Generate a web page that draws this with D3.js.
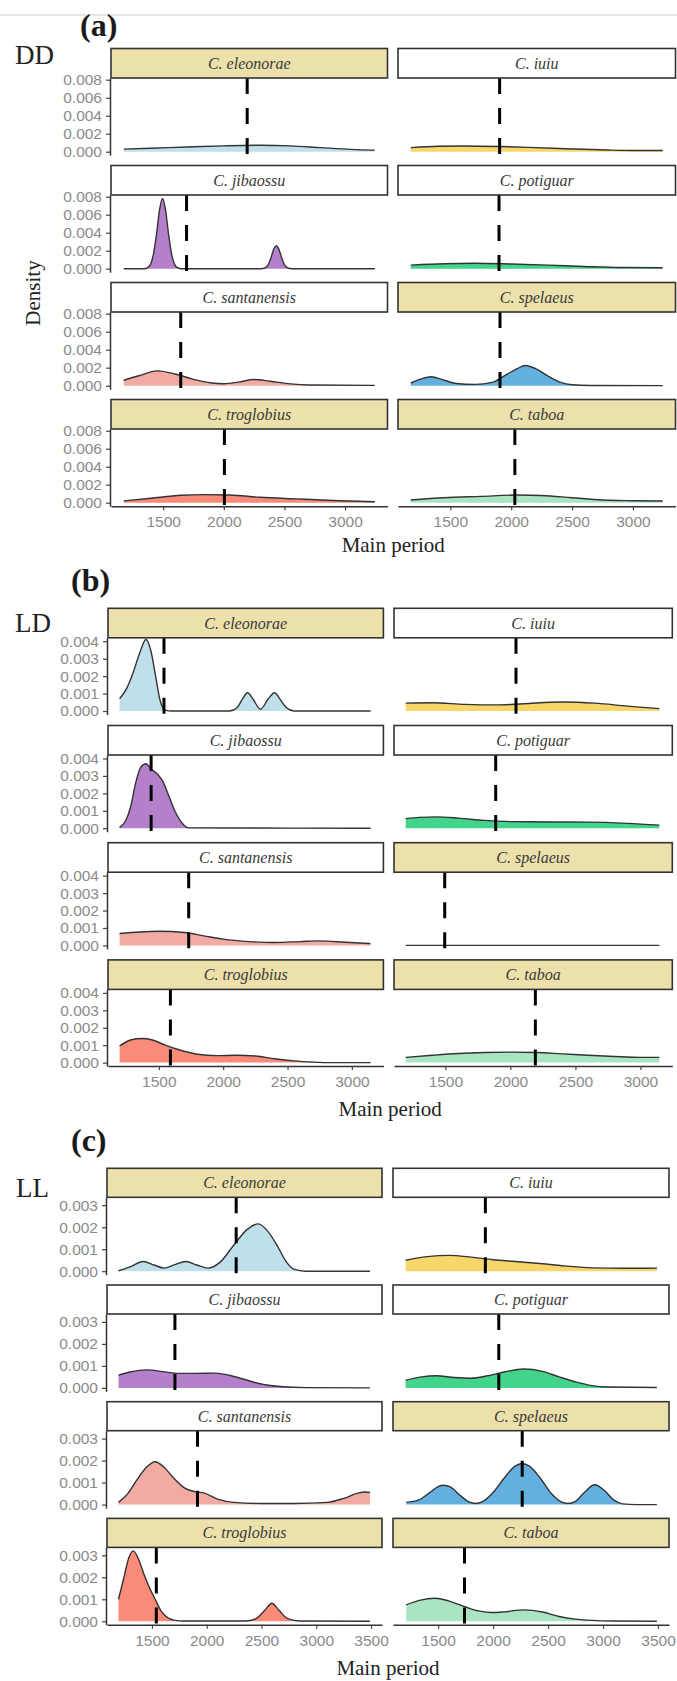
<!DOCTYPE html>
<html><head><meta charset="utf-8">
<script src="https://cdn.jsdelivr.net/npm/d3@7"></script>
<style>body{margin:0;background:#fff}</style>
</head><body><svg id="chart" width="677" height="1681"></svg>
<script>
// ---------- data ----------
const species = ["C. eleonorae","C. iuiu","C. jibaossu","C. potiguar","C. santanensis","C. spelaeus","C. troglobius","C. taboa"];
const tanSpecies = ["C. eleonorae","C. spelaeus","C. troglobius","C. taboa"];
const fillColors = ["#BFE0EA","#F7D66A","#B47FCB","#42D48A","#F2AAA4","#62AFE0","#F98B78","#A9E4C3"];
const conditions = ["DD","LD","LL"];
const panelTags = ["(a)","(b)","(c)"];

const xTicksDD = [1500,2000,2500,3000];
const xTicksLD = [1500,2000,2500,3000];
const xTicksLL = [1500,2000,2500,3000,3500];
const yTicksDD = [0,0.002,0.004,0.006,0.008];
const yTicksLD = [0,0.001,0.002,0.003,0.004];
const yTicksLL = [0,0.001,0.002,0.003];

const meansDD = [2193,1905,1693,1900,1645,1908,2005,2030];
const meansLD = [1540,2043,1440,1887,1732,1495,1590,2192];
const meansLL = [2269,1930,1710,2052,1916,2265,1540,1740];

// density curves [Main period, density]
const dd_eleonorae = [[1175,0.00028],[1400,0.00038],[1700,0.00052],[2000,0.00065],[2300,0.00072],[2550,0.00065],[2800,0.00045],[3050,0.00026],[3245,0.00017]];
const dd_iuiu = [[1175,0.00045],[1400,0.0006],[1600,0.00064],[1900,0.00058],[2200,0.00045],[2500,0.0003],[2800,0.00018],[3050,0.00013],[3245,0.00013]];
const dd_jibaossu = [[1175,0],[1345,0],[1370,0.0001],[1395,0.00047],[1420,0.0016],[1445,0.0038],[1470,0.0065],[1495,0.0078],[1520,0.0065],[1545,0.0038],[1570,0.0016],[1595,0.00047],[1620,0.0001],[1650,0],[2310,0],[2333,0.00005],[2353,0.00022],[2373,0.00064],[2393,0.00138],[2413,0.0022],[2433,0.00255],[2453,0.0022],[2473,0.00138],[2493,0.00064],[2513,0.00022],[2533,0.00005],[2560,0],[3245,0]];
const dd_potiguar = [[1175,0.0004],[1450,0.00055],[1700,0.0006],[2000,0.00052],[2300,0.0004],[2600,0.00025],[2900,0.00013],[3245,0.0001]];
const dd_santanensis = [[1175,0.0006],[1300,0.0011],[1450,0.00165],[1600,0.0013],[1750,0.0007],[1900,0.0003],[2000,0.00022],[2120,0.0004],[2250,0.00068],[2380,0.0005],[2550,0.0002],[2700,0.00008],[3245,0.00003]];
const dd_spelaeus = [[1175,0.0003],[1260,0.00075],[1345,0.001],[1430,0.0007],[1550,0.00025],[1700,0.00015],[1850,0.0004],[1950,0.00115],[2050,0.0019],[2115,0.00225],[2200,0.0019],[2300,0.0011],[2400,0.0004],[2500,0.0001],[2650,0.00002],[3245,0.00001]];
const dd_troglobius = [[1175,0.0002],[1400,0.0005],[1650,0.00082],[1850,0.0009],[2050,0.00085],[2300,0.0006],[2600,0.00042],[2900,0.00025],[3245,0.0001]];
const dd_taboa = [[1175,0.0003],[1450,0.00055],[1750,0.0007],[2050,0.00085],[2250,0.0008],[2500,0.00055],[2750,0.0003],[3000,0.00022],[3245,0.00018]];

const ld_eleonorae = [[1195,0.0007],[1250,0.0013],[1300,0.0022],[1350,0.0033],[1400,0.0041],[1440,0.0034],[1475,0.002],[1510,0.0006],[1550,0.00005],[1600,0],[2050,0],[2110,0.0002],[2150,0.0007],[2190,0.00105],[2230,0.0007],[2290,0.0001],[2350,0.0007],[2400,0.00105],[2440,0.0007],[2490,0.0002],[2550,0],[3145,0]];
const ld_iuiu = [[1195,0.00045],[1400,0.00047],[1650,0.00038],[1900,0.00035],[2100,0.00042],[2400,0.00052],[2650,0.00045],[2900,0.00028],[3145,0.00014]];
const ld_jibaossu = [[1195,0.00005],[1240,0.0004],[1280,0.0012],[1320,0.0026],[1360,0.0035],[1400,0.0037],[1440,0.0034],[1490,0.0031],[1530,0.0027],[1580,0.0018],[1630,0.0009],[1680,0.0003],[1730,0.00002],[3145,0]];
const ld_potiguar = [[1195,0.00055],[1300,0.00062],[1430,0.00065],[1600,0.00058],[1800,0.00045],[2000,0.00038],[2300,0.00036],[2600,0.00035],[2900,0.00028],[3145,0.00018]];
const ld_santanensis = [[1195,0.00068],[1350,0.00077],[1500,0.00081],[1700,0.00074],[1850,0.00055],[2000,0.00036],[2200,0.00022],[2400,0.00017],[2600,0.00022],[2750,0.00026],[2950,0.00018],[3145,0.0001]];
const ld_spelaeus = [[1195,0],[3145,0]];
const ld_troglobius = [[1195,0.00095],[1280,0.0013],[1370,0.00138],[1450,0.0013],[1550,0.001],[1650,0.00075],[1800,0.00048],[1950,0.0004],[2100,0.00042],[2250,0.00038],[2400,0.00022],[2550,0.0001],[2700,0.00003],[2850,0],[3145,0]];
const ld_taboa = [[1195,0.0003],[1400,0.00042],[1600,0.00052],[1800,0.00058],[2000,0.0006],[2200,0.00058],[2400,0.0005],[2600,0.00042],[2800,0.00035],[3000,0.0003],[3145,0.0003]];

const ll_eleonorae = [[1195,0.00002],[1300,0.0002],[1420,0.00044],[1520,0.00028],[1610,0.00014],[1710,0.0003],[1810,0.00044],[1910,0.00028],[2010,0.00014],[2120,0.0004],[2250,0.0012],[2370,0.0019],[2470,0.00215],[2560,0.0018],[2650,0.0011],[2730,0.0004],[2800,0.00008],[2900,0],[3490,0]];
const ll_iuiu = [[1205,0.0005],[1400,0.00066],[1600,0.00072],[1800,0.00064],[2000,0.00052],[2200,0.00044],[2400,0.00036],[2650,0.00024],[2900,0.00015],[3200,0.00013],[3490,0.00014]];
const ll_jibaossu = [[1195,0.00058],[1300,0.00072],[1450,0.00082],[1600,0.00074],[1750,0.00066],[1900,0.00066],[2080,0.00067],[2250,0.00052],[2400,0.0003],[2550,0.00013],[2700,0.00005],[2900,0.00001],[3490,0]];
const ll_potiguar = [[1205,0.00035],[1350,0.0005],[1480,0.00055],[1650,0.00047],[1800,0.00044],[1950,0.00055],[2100,0.00072],[2280,0.00086],[2450,0.00075],[2600,0.0005],[2750,0.00027],[2900,0.0001],[3050,0.00004],[3490,0.00002]];
const ll_santanensis = [[1195,0.0001],[1280,0.0005],[1360,0.0011],[1450,0.0017],[1530,0.00195],[1610,0.0017],[1700,0.0012],[1800,0.00075],[1900,0.00058],[1980,0.00052],[2100,0.00025],[2250,0.0001],[2500,0.00005],[2800,0.00005],[3100,0.0001],[3250,0.00028],[3380,0.00052],[3450,0.00057],[3490,0.00055]];
const ll_spelaeus = [[1210,0.0001],[1320,0.0002],[1420,0.00053],[1500,0.00082],[1555,0.00088],[1610,0.0008],[1700,0.00042],[1780,0.00012],[1840,0.00005],[1900,0.00012],[2000,0.00055],[2100,0.0012],[2200,0.00175],[2265,0.00187],[2330,0.00175],[2430,0.0012],[2530,0.0005],[2620,0.00012],[2680,0.00005],[2750,0.00015],[2830,0.00055],[2925,0.0009],[3010,0.00065],[3100,0.0002],[3180,0.00003],[3300,0],[3490,0]];
const ll_troglobius = [[1195,0.001],[1240,0.0019],[1290,0.0029],[1330,0.0032],[1380,0.0028],[1430,0.0021],[1480,0.0015],[1530,0.001],[1580,0.0005],[1630,0.00022],[1700,0.00005],[1800,0.00001],[2350,0.00001],[2450,0.00012],[2530,0.0005],[2595,0.00082],[2660,0.0005],[2740,0.00012],[2850,0.00001],[3490,0]];
const ll_taboa = [[1210,0.00075],[1330,0.00095],[1470,0.00105],[1600,0.00092],[1750,0.00065],[1880,0.00046],[1980,0.0004],[2100,0.00043],[2280,0.00052],[2450,0.00042],[2600,0.00022],[2750,0.0001],[2900,0.00004],[3100,0.00001],[3490,0]];

const curvesDD = [dd_eleonorae,dd_iuiu,dd_jibaossu,dd_potiguar,dd_santanensis,dd_spelaeus,dd_troglobius,dd_taboa];
const curvesLD = [ld_eleonorae,ld_iuiu,ld_jibaossu,ld_potiguar,ld_santanensis,ld_spelaeus,ld_troglobius,ld_taboa];
const curvesLL = [ll_eleonorae,ll_iuiu,ll_jibaossu,ll_potiguar,ll_santanensis,ll_spelaeus,ll_troglobius,ll_taboa];

// ---------- layout ----------
const layouts = [
  {tagX:80, tagY:36, condX:15, condY:64, leftX:[111,387.5], rightX:[398,675.5], xDomain:[1070,3350], yDomain:[-0.00039,0.00819], stripTop:48.5, rowStep:117, stripH:29.5, panelH:77.2, titleY:552, density:true},
  {tagX:71, tagY:591, condX:15, condY:632, leftX:[108,383.4], rightX:[394,672.3], xDomain:[1105,3245], yDomain:[-0.0002,0.0042], stripTop:608.3, rowStep:117.2, stripH:29.5, panelH:76.7, titleY:1116, density:false},
  {tagX:71, tagY:1151, condX:16, condY:1197, leftX:[107,382], rightX:[393,669], xDomain:[1090,3600], yDomain:[-0.00016,0.00336], stripTop:1168.3, rowStep:116.7, stripH:29, panelH:77.4, titleY:1675, density:false}
];
const sectionData = [
  {means:meansDD, curves:curvesDD, xTicks:xTicksDD, yTicks:yTicksDD},
  {means:meansLD, curves:curvesLD, xTicks:xTicksLD, yTicks:yTicksLD},
  {means:meansLL, curves:curvesLL, xTicks:xTicksLL, yTicks:yTicksLL}
];

const svg = d3.select("#chart");
svg.append("rect").attr("width",677).attr("height",1681).attr("fill","#fff");
svg.append("line").attr("x1",0).attr("x2",677).attr("y1",15).attr("y2",15)
  .attr("stroke","#dcdcdc").attr("stroke-width",1.5);
const defs = svg.append("defs");

const serif = "'Liberation Serif','Times New Roman',serif";
const sans = "'Liberation Sans',Arial,sans-serif";

layouts.forEach((L, si) => {
  const D = sectionData[si];
  const g = svg.append("g");
  g.append("text").attr("x",L.tagX).attr("y",L.tagY).text(panelTags[si])
    .attr("font-family",serif).attr("font-weight","bold").attr("font-size",32).attr("fill","#1a1a1a");
  g.append("text").attr("x",L.condX).attr("y",L.condY).text(conditions[si])
    .attr("font-family",serif).attr("font-size",27).attr("fill","#222");

  species.forEach((sp, i) => {
    const col = i % 2, row = Math.floor(i / 2);
    const xr = col === 0 ? L.leftX : L.rightX;
    const sTop = L.stripTop + row * L.rowStep;
    const pTop = sTop + L.stripH;
    const pBot = pTop + L.panelH;
    const x = d3.scaleLinear().domain(L.xDomain).range(xr);
    const y = d3.scaleLinear().domain(L.yDomain).range([pBot, pTop]);
    const cid = `clip-${si}-${i}`;
    defs.append("clipPath").attr("id", cid).append("rect")
      .attr("x", xr[0]).attr("y", pTop).attr("width", xr[1]-xr[0]).attr("height", L.panelH);
    const pg = g.append("g").attr("clip-path", `url(#${cid})`);
    const pts = D.curves[i];
    const area = d3.area().x(d => x(d[0])).y0(y(0)).y1(d => y(Math.max(0,d[1]))).curve(d3.curveMonotoneX);
    const line = d3.line().x(d => x(d[0])).y(d => y(Math.max(0,d[1]))).curve(d3.curveMonotoneX);
    pg.append("path").datum(pts).attr("d", area).attr("fill", fillColors[i]).attr("stroke","none");
    pg.append("path").datum(pts).attr("d", line).attr("fill","none").attr("stroke","#333").attr("stroke-width",1.4);
    pg.append("line").attr("x1", x(D.means[i])).attr("x2", x(D.means[i]))
      .attr("y1", pTop).attr("y2", pBot).attr("stroke","#000").attr("stroke-width",3)
      .attr("stroke-dasharray","16,14");
    // strip
    g.append("rect").attr("x", xr[0]).attr("y", sTop).attr("width", xr[1]-xr[0]).attr("height", L.stripH)
      .attr("fill", tanSpecies.includes(sp) ? "#EDE1AB" : "#fff").attr("stroke","#333").attr("stroke-width",1.6);
    g.append("text").attr("x",(xr[0]+xr[1])/2).attr("y", sTop + L.stripH/2 + 5.5).attr("text-anchor","middle")
      .attr("font-family",serif).attr("font-style","italic").attr("font-size",16).attr("fill","#3a3a3a").text(sp);
    // axes
    if (col === 0) {
      const ax = g.append("g").attr("transform",`translate(${xr[0]-1},0)`)
        .call(d3.axisLeft(y).tickValues(D.yTicks).tickFormat(d3.format(".3f")).tickSize(4).tickSizeOuter(0).tickPadding(4));
      styleAxis(ax);
    }
    if (row === 3) {
      const ax = g.append("g").attr("transform",`translate(0,${pBot})`)
        .call(d3.axisBottom(x).tickValues(D.xTicks).tickFormat(d3.format("d")).tickSize(4).tickSizeOuter(0).tickPadding(6));
      styleAxis(ax);
    }
  });

  const cx = (L.leftX[0] + L.rightX[1]) / 2;
  g.append("text").attr("x", cx).attr("y", L.titleY).attr("text-anchor","middle")
    .attr("font-family",serif).attr("font-size",21).attr("fill","#222").text("Main period");
  if (L.density) {
    g.append("text").attr("transform","translate(40,293) rotate(-90)").attr("text-anchor","middle")
      .attr("font-family",serif).attr("font-size",21).attr("fill","#222").text("Density");
  }
});

function styleAxis(ax) {
  ax.select(".domain").attr("stroke","#333").attr("stroke-width",1.5);
  ax.selectAll(".tick line").attr("stroke","#444").attr("stroke-width",1.2);
  ax.selectAll(".tick text").attr("fill","#8a8a8a").attr("font-size",15.5).attr("font-family",sans);
}
</script></body></html>
